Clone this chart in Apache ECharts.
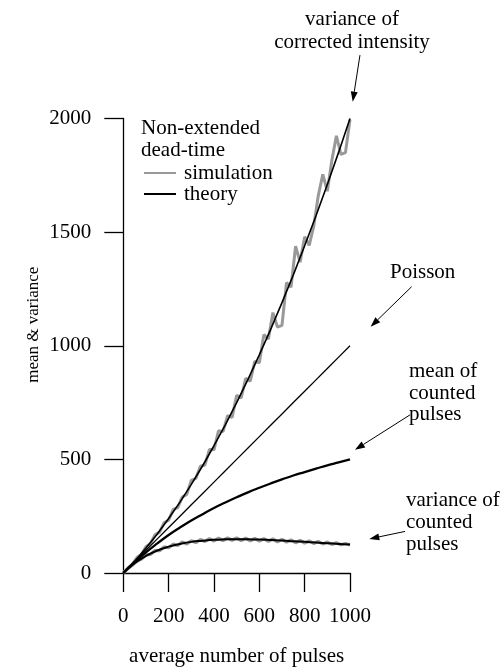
<!DOCTYPE html>
<html lang="en">

<head>
  <meta charset="UTF-8">
  <script src="https://cdn.jsdelivr.net/npm/echarts@6.0.0/dist/echarts.min.js"></script>
  <title>Dead-time</title>
  <style>
    html, body { margin: 0; padding: 0; background: #fff; }
    .container { width: 503px; height: 672px; }
  </style>
</head>

<body>
  <div class="container"></div>

  <script>
    // theory curves, every 50 pulses
    const xTheory = [0, 50, 100, 150, 200, 250, 300, 350, 400, 450, 500, 550, 600, 650, 700, 750, 800, 850, 900, 950, 1000];
    const varCorrected = [0, 52, 110, 172, 240, 312, 390, 472, 560, 652, 750, 852, 960, 1072, 1190, 1312, 1440, 1572, 1710, 1852, 2000];
    const poisson = [0, 50, 100, 150, 200, 250, 300, 350, 400, 450, 500, 550, 600, 650, 700, 750, 800, 850, 900, 950, 1000];
    const meanCounted = [0, 48, 91, 130, 167, 200, 231, 259, 286, 310, 333, 355, 375, 394, 412, 429, 444, 459, 474, 487, 500];
    const varCounted = [0, 43, 75, 99, 116, 128, 137, 142, 146, 148, 149, 148, 147, 145, 143, 140, 137, 134, 131, 128, 125];

    // simulation runs, every 20 pulses
    const xSim = [0, 20, 40, 60, 80, 100, 120, 140, 160, 180, 200, 220, 240, 260, 280, 300, 320, 340, 360, 380, 400,
      420, 440, 460, 480, 500, 520, 540, 560, 580, 600, 620, 640, 660, 680, 700, 720, 740, 760, 780, 800,
      820, 840, 860, 880, 900, 920, 940, 960, 980, 1000];
    const simCorrected = [0, 22, 39, 68, 81, 116, 130, 168, 180, 222, 232, 280, 288, 334, 346, 408, 416, 470, 475, 544, 542,
      626, 622, 692, 685, 782, 770, 857, 844, 931, 925, 1049, 1030, 1146, 1082, 1090, 1278, 1258, 1438, 1368, 1480,
      1442, 1526, 1660, 1754, 1680, 1816, 1924, 1842, 1850, 1995];
    const simCounted = [0, 19, 34, 52, 61, 80, 82, 99, 98, 115, 111, 127, 121, 136, 128, 142, 134, 147, 139, 151, 141,
      153, 143, 154, 144, 154, 143, 153, 142, 152, 140, 151, 139, 150, 137, 148, 136, 146, 133, 143, 132,
      141, 130, 139, 128, 136, 126, 133, 124, 130, 123];

    const xTicks = [0, 1000, 200];
    const yTicks = [0, 2000, 500];

    // arrows for the annotations: [fromX, fromY, toX, toY] in data units
    const arrows = [
      [1044, 2279, 1012, 2074],
      [1272, 1260, 1091, 1084],
      [1265, 696, 1022, 542],
      [1243, 183, 1085, 150],
    ];

    const font = "'Liberation Serif', 'Times New Roman', serif";
    const pairs = (xs, ys) => xs.map((x, i) => [x, ys[i]]);

    const renderArrow = (params, api) => {
      const a = api.coord([api.value(0), api.value(1)]);
      const b = api.coord([api.value(2), api.value(3)]);
      const dx = b[0] - a[0], dy = b[1] - a[1];
      const len = Math.sqrt(dx * dx + dy * dy);
      const ux = dx / len, uy = dy / len;
      const head = 10, half = 3.5;
      const base = [b[0] - ux * head, b[1] - uy * head];
      return {
        type: 'group',
        children: [
          { type: 'line', shape: { x1: a[0], y1: a[1], x2: base[0], y2: base[1] }, style: { stroke: '#000', lineWidth: 1 } },
          {
            type: 'polygon',
            shape: { points: [b, [base[0] - uy * half, base[1] + ux * half], [base[0] + uy * half, base[1] - ux * half]] },
            style: { fill: '#000' },
          },
        ],
      };
    };

    const chart = echarts.init(document.querySelector(".container"));
    const options = {
      animation: false,
      backgroundColor: '#fff',
      textStyle: { fontFamily: font, color: '#000' },
      title: {
        text: 'Non-extended\ndead-time',
        left: 141,
        top: 117,
        padding: 0,
        textStyle: { fontFamily: font, fontSize: 21, fontWeight: 'normal', color: '#000', lineHeight: 22 },
      },
      legend: {
        data: ['simulation', 'theory'],
        orient: 'vertical',
        left: 143,
        top: 162.5,
        padding: 0,
        itemWidth: 32,
        itemHeight: 14,
        itemGap: 0,
        selectedMode: false,
        itemStyle: { opacity: 0 },
        textStyle: { fontFamily: font, fontSize: 21, color: '#000', lineHeight: 21, padding: [0, 0, 0, 3] },
      },
      grid: { left: 123.3, right: 153, top: 118.5, bottom: 98.7 },
      xAxis: {
        type: 'value',
        min: xTicks[0],
        max: xTicks[1],
        interval: xTicks[2],
        offset: 3,
        splitLine: { show: false },
        axisLine: { lineStyle: { color: '#000', width: 1.3 } },
        axisTick: { length: 19, lineStyle: { color: '#000', width: 1.3 } },
        axisLabel: { margin: 30, fontFamily: font, fontSize: 21, color: '#000', formatter: (v) => String(v) },
        name: 'average number of pulses',
        nameLocation: 'middle',
        nameGap: 70,
        nameTextStyle: { fontFamily: font, fontSize: 21, color: '#000' },
      },
      yAxis: {
        type: 'value',
        min: yTicks[0],
        max: yTicks[1],
        interval: yTicks[2],
        offset: 4,
        splitLine: { show: false },
        axisLine: { show: true, lineStyle: { color: '#000', width: 1.3 } },
        axisTick: { show: true, length: 19, lineStyle: { color: '#000', width: 1.3 } },
        axisLabel: { margin: 28, fontFamily: font, fontSize: 21, color: '#000', formatter: (v) => String(v) },
        name: 'mean & variance',
        nameLocation: 'middle',
        nameGap: 77,
        nameTextStyle: { fontFamily: font, fontSize: 17, color: '#000', padding: [0, 0, 0, 42] },
      },
      graphic: [
        { type: 'text', x: 352, y: 8, style: { text: 'variance of\ncorrected intensity', font: '21px ' + font, fill: '#000', align: 'center', lineHeight: 23 } },
        { type: 'text', left: 390, top: 262, style: { text: 'Poisson', font: '21px ' + font, fill: '#000' } },
        { type: 'text', left: 409, top: 360.5, style: { text: 'mean of\ncounted\npulses', font: '21px ' + font, fill: '#000', lineHeight: 21.7 } },
        { type: 'text', left: 406, top: 489.5, style: { text: 'variance of\ncounted\npulses', font: '21px ' + font, fill: '#000', lineHeight: 22 } },
      ],
      series: [
        {
          name: 'simulation', type: 'line', data: pairs(xSim, simCorrected),
          symbol: 'none', lineStyle: { color: '#999', width: 3 }, itemStyle: { color: '#999' }, z: 2,
        },
        {
          name: 'simulation', type: 'line', data: pairs(xSim, simCounted),
          symbol: 'none', lineStyle: { color: '#999', width: 3.2 }, itemStyle: { color: '#999' }, z: 2,
        },
        {
          name: 'theory', type: 'line', data: pairs(xTheory, varCorrected),
          symbol: 'none', lineStyle: { color: '#000', width: 1.6 }, itemStyle: { color: '#000' }, z: 3,
        },
        {
          name: 'Poisson', type: 'line', data: pairs(xTheory, poisson),
          symbol: 'none', lineStyle: { color: '#000', width: 1.3 }, z: 3,
        },
        {
          name: 'mean of counted pulses', type: 'line', data: pairs(xTheory, meanCounted), smooth: true,
          symbol: 'none', lineStyle: { color: '#000', width: 2.3 }, z: 3,
        },
        {
          name: 'variance of counted pulses', type: 'line', data: pairs(xTheory, varCounted), smooth: true,
          symbol: 'none', lineStyle: { color: '#000', width: 2 }, z: 3,
        },
        {
          name: 'arrows', type: 'custom', data: arrows, renderItem: renderArrow,
          clip: false, silent: true, z: 4,
        },
      ],
    };

    chart.setOption(options);
  </script>
</body>

</html>
